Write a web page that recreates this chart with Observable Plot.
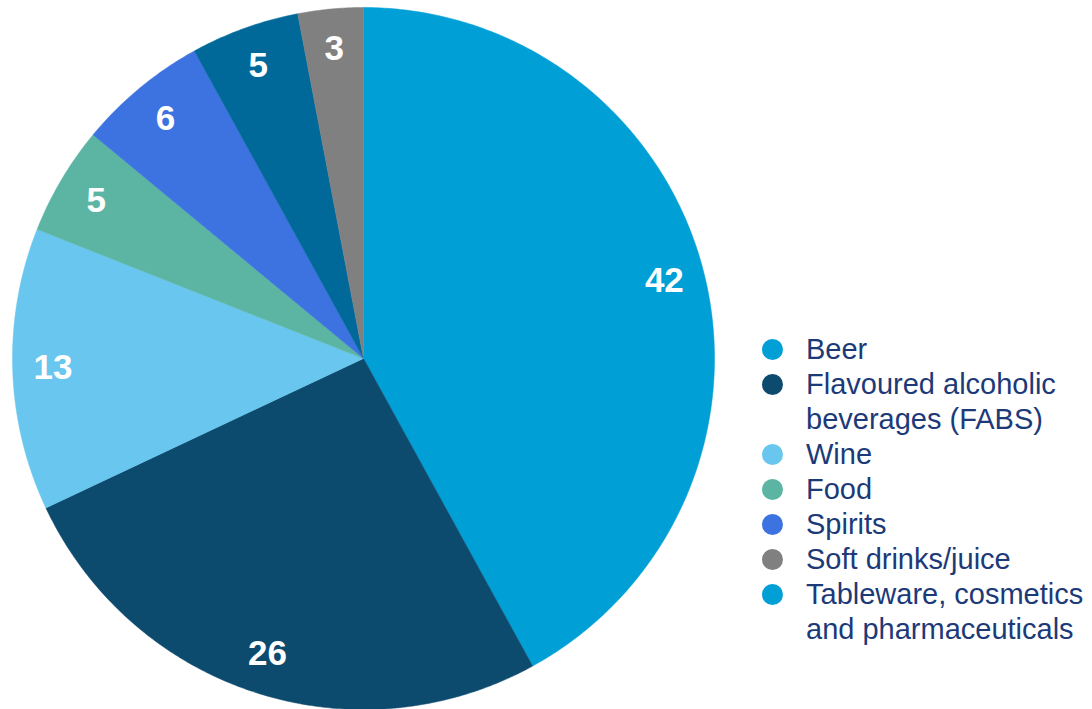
<!DOCTYPE html>
<html>
<head>
<meta charset="utf-8">
<script src="https://cdn.jsdelivr.net/npm/d3@7"></script>
<script src="https://cdn.jsdelivr.net/npm/@observablehq/plot@0.6"></script>
<style>
  html, body { margin: 0; padding: 0; background: #fff; }
  #wrap { position: relative; width: 1092px; height: 709px; overflow: hidden; font-family: "Liberation Sans", Arial, sans-serif; }
  #legend { position: absolute; left: 762px; top: 332px; font-size: 29px; line-height: 35px; color: #1c3a78; }
  .item { display: flex; align-items: flex-start; white-space: nowrap; }
  .dot { width: 21px; height: 21px; border-radius: 50%; margin-top: 7px; margin-right: 23px; flex: none; }
</style>
</head>
<body>
<div id="wrap"></div>
<script>
// Data (clockwise from 12 o'clock)
const categories = ["Beer", "Flavoured alcoholic beverages (FABS)", "Wine", "Food", "Spirits", "Tableware, cosmetics and pharmaceuticals", "Soft drinks/juice"];
const values = [42, 26, 13, 5, 6, 5, 3];
const sliceColors = ["#009fd6", "#0c4a6e", "#69c6ee", "#5bb5a2", "#3d73e0", "#00699a", "#808080"];

// Legend (order as in the reference)
const legendLabels = [["Beer"], ["Flavoured alcoholic", "beverages (FABS)"], ["Wine"], ["Food"], ["Spirits"], ["Soft drinks/juice"], ["Tableware, cosmetics", "and pharmaceuticals"]];
const legendColors = ["#009fd6", "#0c4a6e", "#69c6ee", "#5bb5a2", "#3d73e0", "#808080", "#009fd6"];

const arcs = d3.pie().sort(null).value(d => d.value).startAngle(0).endAngle(2 * Math.PI)(
  categories.map((c, i) => ({category: c, value: values[i]}))
);

// Build slice outlines in unit coordinates
const outline = [];
arcs.forEach(a => {
  const c = a.data.category;
  outline.push({category: c, x: 0, y: 0});
  const n = Math.max(2, Math.ceil((a.endAngle - a.startAngle) / (Math.PI / 360)));
  for (let k = 0; k <= n; k++) {
    const t = a.startAngle + (a.endAngle - a.startAngle) * k / n;
    outline.push({category: c, x: Math.sin(t), y: Math.cos(t)});
  }
  outline.push({category: c, x: 0, y: 0});
});

const labelR = 0.885;
const labels = arcs.map(a => {
  const m = (a.startAngle + a.endAngle) / 2;
  return {text: String(a.data.value), x: labelR * Math.sin(m), y: labelR * Math.cos(m)};
});

const chart = Plot.plot({
  width: 1092,
  height: 709,
  marginLeft: 12,
  marginRight: 378,
  marginTop: 7,
  marginBottom: 0,
  x: {domain: [-1, 1], axis: null},
  y: {domain: [-1, 1], axis: null},
  color: {type: "ordinal", domain: categories, range: sliceColors},
  style: {fontFamily: "'Liberation Sans', Arial, sans-serif", background: "white"},
  marks: [
    Plot.line(outline, {x: "x", y: "y", z: "category", fill: "category", stroke: "category", strokeWidth: 0.5, curve: "linear"}),
    Plot.text(labels, {x: "x", y: "y", text: "text", fill: "white", fontSize: 35, fontWeight: "bold", textAnchor: "middle", lineAnchor: "middle"})
  ]
});

const wrap = document.getElementById("wrap");
wrap.appendChild(chart);

const legend = document.createElement("div");
legend.id = "legend";
legendLabels.forEach((lines, i) => {
  const item = document.createElement("div");
  item.className = "item";
  const dot = document.createElement("span");
  dot.className = "dot";
  dot.style.background = legendColors[i];
  const txt = document.createElement("span");
  lines.forEach((l, j) => {
    if (j) txt.appendChild(document.createElement("br"));
    txt.appendChild(document.createTextNode(l));
  });
  item.appendChild(dot);
  item.appendChild(txt);
  legend.appendChild(item);
});
wrap.appendChild(legend);
</script>
</body>
</html>
